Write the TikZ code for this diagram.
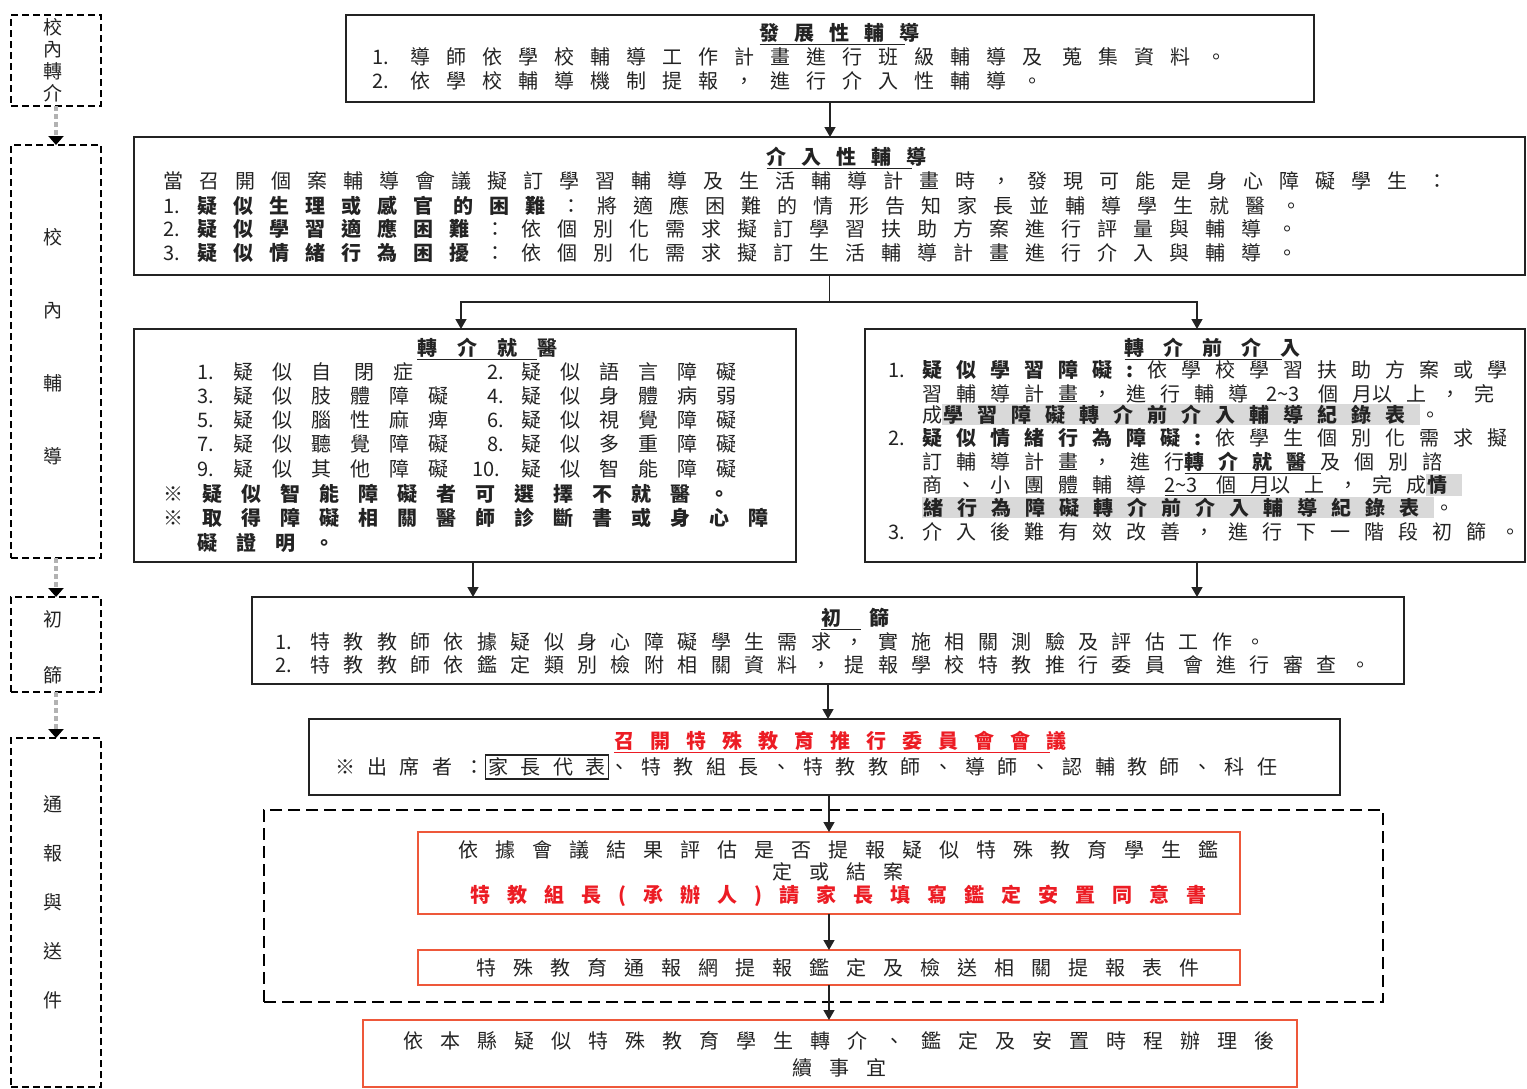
\documentclass[tikz,border=0pt]{standalone}
\usepackage{fontspec}
\setmainfont{Noto Sans CJK TC}
\newfontfamily\plainf{Noto Sans CJK TC}
\usetikzlibrary{arrows.meta}
\definecolor{boxred}{RGB}{238,88,58}
\definecolor{txtred}{RGB}{236,28,36}
\definecolor{hlgray}{RGB}{217,217,217}
\definecolor{ink}{RGB}{35,35,35}
\newcommand\fz[1]{\fontsize{20}{24}\selectfont\addfontfeature{LetterSpace=#1}}
\newcommand\hlx[1]{{\setlength\fboxsep{1pt}\colorbox{hlgray}{#1}}}
\newcommand\nm[2]{\makebox[#1pt][l]{\plainf #2}}
\newcommand\ulx[2][0]{\underline{#2\kern-#1pt}}
\newcommand\rng{{\plainf 2\textasciitilde 3}}
\begin{document}
\begin{tikzpicture}[x=1pt,y=-1pt,
  box/.style={draw=ink, line width=1.4pt, inner sep=0pt, outer sep=0pt},
  rbox/.style={draw=boxred, line width=1.8pt, inner sep=0pt, outer sep=0pt},
  lbox/.style={draw=black, line width=1.6pt, dash pattern=on 7pt off 4pt, inner sep=0pt, outer sep=0pt},
  arr/.style={draw=ink, line width=1.4pt, -{Triangle[width=11pt,length=10pt]}},
  darr/.style={draw=gray!60, line width=4pt, dash pattern=on 5pt off 3pt, -{Triangle[width=15pt,length=9pt,color=black]}},
  tl/.style={inner sep=0pt, anchor=base west, text=ink},
  tc/.style={inner sep=0pt, anchor=base, text=ink},
  lt/.style={inner sep=0pt, align=center, text=ink},
]
\useasboundingbox (0,0) rectangle (1527,1088);

% ---------- left column ----------
\node[lbox, minimum width=90pt, minimum height=91pt]  (l1) at (56,60.5) {};
\node[lbox, minimum width=90pt, minimum height=413pt] (l2) at (56,351.5) {};
\node[lbox, minimum width=90pt, minimum height=95pt]  (l3) at (56,644.5) {};
\node[lbox, minimum width=90pt, minimum height=349pt] (l4) at (56,912.5) {};
\node[lt, font=\fontsize{19}{22}\selectfont] (lt1) at (53,60.5) {校\\內\\轉\\介};
\node[lt, font=\fontsize{19}{73}\selectfont] (lt2) at (53,346.5) {校\\內\\輔\\導};
\node[lt, font=\fontsize{19}{56}\selectfont] (lt3) at (53,647) {初\\篩};
\node[lt, font=\fontsize{19}{49}\selectfont] (lt4) at (53,902) {通\\報\\與\\送\\件};
\draw[darr] (l1.south) -- (l2.north);
\draw[darr] (l2.south) -- (l3.north);
\draw[darr] (l3.south) -- (l4.north);

% ---------- boxes ----------
\node[box, minimum width=968pt,  minimum height=87pt]  (b1) at (830,58.5) {};
\node[box, minimum width=1391pt, minimum height=138pt] (b2) at (829.5,206) {};
\node[box, minimum width=662pt,  minimum height=233pt] (b3) at (465,445.5) {};
\node[box, minimum width=660pt,  minimum height=233pt] (b4) at (1195,445.5) {};
\node[box, minimum width=1152pt, minimum height=87pt]  (b5) at (828,640.5) {};
\node[box, minimum width=1031pt, minimum height=76pt]  (b6) at (824.5,757) {};
\node[draw=black, line width=2.6pt, dash pattern=on 12pt off 6pt, inner sep=0pt, outer sep=0pt,
      minimum width=1119pt, minimum height=192pt] (dbox) at (823.5,906) {};
\node[rbox, minimum width=822pt, minimum height=82pt] (b7) at (829,873) {};
\node[rbox, minimum width=822pt, minimum height=35pt] (b8) at (829,967.5) {};
\node[rbox, minimum width=934pt, minimum height=67pt] (b9) at (830,1053.5) {};

% ---------- connectors ----------
\coordinate (jn) at (829.5,302);
\draw[arr] (b1.south) -- (b1.south |- b2.north);
\draw[ink, line width=1.4pt] (b2.south) -- (jn);
\draw[arr] (jn) -| ([xshift=-4pt]b3.north);
\draw[arr] (jn) -| ([xshift=2pt]b4.north);
\draw[arr] ([xshift=8pt]b3.south) -- ([xshift=8pt]b3.south |- b5.north);
\draw[arr] ([xshift=2pt]b4.south) -- ([xshift=2pt]b4.south |- b5.north);
\draw[arr] (b5.south) -- (b5.south |- b6.north);
\draw[arr] (b7.north |- b6.south) -- (b7.north);
\draw[arr] (b7.south) -- (b8.north);
\draw[arr] (b8.south) -- (b8.south |- b9.north);

% ---------- box 1 ----------
\node[tc, font={\fz{75}\bfseries}] (t1) at (832,40.5) {\ulx[15]{發展性輔導}};
\node[tl, font={\fz{80}}] (t1a) at (372,64.5) {\nm{38}{1.}導師依學校輔導工作計畫進行班級輔導及 蒐集資料。};
\node[tl, font={\fz{80}}] (t1b) at (372,88.5) {\nm{38}{2.}依學校輔導機制提報，進行介入性輔導。};

% ---------- box 2 ----------
\node[tc, font={\fz{75}\bfseries}] (t2) at (839,164.5) {\ulx[15]{介入性輔導}};
\node[tl, font={\fz{80}}] (t2a) at (163,188.5) {當召開個案輔導會議擬訂學習輔導及生活輔導計畫時，發現可能是身心障礙學生 ：};
\node[tl, font={\fz{80}}] (t2b) at (163,213.5) {\nm{34}{1.}\textbf{疑似生理或感官 的困難}：將適應困難的情形告知家長並輔導學生就醫。};
\node[tl, font={\fz{80}}] (t2c) at (163,236.5) {\nm{34}{2.}\textbf{疑似學習適應困難}：依個別化需求擬訂學習扶助方案進行評量與輔導。};
\node[tl, font={\fz{80}}] (t2d) at (163,260.5) {\nm{34}{3.}\textbf{疑似情緒行為困擾}：依個別化需求擬訂生活輔導計畫進行介入與輔導。};

% ---------- box 3 ----------
\node[tc, font={\fz{100}\bfseries}] (t3) at (477,355.5) {\ulx[20]{轉介就醫}};
\node[tl, font={\fz{95}}] (t3a1) at (197,379.5) {\nm{36}{1.}疑似自 閉症};
\node[tl, font={\fz{95}}] (t3a2) at (487,379.5) {\nm{34}{2.}疑似語言障礙};
\node[tl, font={\fz{95}}] (t3b1) at (197,403.5) {\nm{36}{3.}疑似肢體障礙};
\node[tl, font={\fz{95}}] (t3b2) at (487,403.5) {\nm{34}{4.}疑似身體病弱};
\node[tl, font={\fz{95}}] (t3c1) at (197,427.5) {\nm{36}{5.}疑似腦性麻痺};
\node[tl, font={\fz{95}}] (t3c2) at (487,427.5) {\nm{34}{6.}疑似視覺障礙};
\node[tl, font={\fz{95}}] (t3d1) at (197,451.5) {\nm{36}{7.}疑似聽覺障礙};
\node[tl, font={\fz{95}}] (t3d2) at (487,451.5) {\nm{34}{8.}疑似多重障礙};
\node[tl, font={\fz{95}}] (t3e1) at (197,476.5) {\nm{36}{9.}疑似其他障礙};
\node[tl, font={\fz{95}}] (t3e2) at (472,476.5) {\nm{49}{10.}疑似智能障礙};
\node[tl, font={\fz{95}\bfseries}] (t3f) at (163,501.5) {※疑似智能障礙者可選擇不就醫。};
\node[tl, font={\fz{95}\bfseries}] (t3g) at (163,525.5) {※取得障礙相關醫師診斷書或身心障};
\node[tl, font={\fz{95}\bfseries}] (t3h) at (197,550.5) {礙證明。};

% ---------- box 4 ----------
\node[tc, font={\fz{95}\bfseries}] (t4) at (1203,355.5) {\ulx[19]{轉介前介入}};
\node[tl, font={\fz{70}}] (t4a) at (888,377.5) {\nm{34}{1.}\textbf{疑似學習障礙:}依學校學習扶助方案或學};
\node[tl, font={\fz{70}}] (t4b) at (922,401.5) {習輔導計畫，進行輔導 \ulx{\rng\ 個月}以上，完};
\node[tl, font={\fz{70}}] (t4c) at (922,422.5) {成\hlx{\textbf{學習障礙轉介前介入輔導紀錄表}}。};
\node[tl, font={\fz{70}}] (t4d) at (888,445.5) {\nm{34}{2.}\textbf{疑似情緒行為障礙:}依學生個別化需求擬};
\node[tl, font={\fz{70}}] (t4e) at (922,469.5) {訂輔導計畫， 進行\ulx{\textbf{轉介就醫}}及個別諮};
\node[tl, font={\fz{70}}] (t4f) at (922,492.5) {商、小團體輔導 \ulx{\rng\ 個月}以上，完成\hlx{\textbf{情}}};
\node[tl, font={\fz{70}}] (t4g) at (922,515.5) {\hlx{\textbf{緒行為障礙轉介前介入輔導紀錄表}}。};
\node[tl, font={\fz{70}}] (t4h) at (888,539.5) {\nm{34}{3.}介入後難有效改善，進行下一階段初篩。};

% ---------- box 5 ----------
\node[tc, font={\fz{140}\bfseries}] (t5) at (841,625.5) {\ulx[28]{初篩}};
\node[tl, font={\fz{67}}] (t5a) at (275,649.5) {\nm{35}{1.}特教教師依據疑似身心障礙學生需求，實施相關測驗及評估工作。};
\node[tl, font={\fz{67}}] (t5b) at (275,672.5) {\nm{35}{2.}特教教師依鑑定類別檢附相關資料，提報學校特教推行委員 會進行審查。};

% ---------- box 6 ----------
\node[tc, font={\fz{80}\bfseries}, text=txtred] (t6) at (832,748.5) {\ulx[16]{召開特殊教育推行委員會會議}};
\node[tl, font={\fz{62}}] (t6a) at (335,774.5) {※出席者：{\setlength\fboxsep{2pt}\setlength\fboxrule{1.5pt}\fbox{家長代表}}、特教組長、特教教師、導師、認輔教師、科任};

% ---------- red boxes ----------
\node[tc, font={\fz{85}}] (t7a) at (838,857.5) {依據會議結果評估是否提報疑似特殊教育學生鑑};
\node[tc, font={\fz{85}}] (t7b) at (838,879.5) {定或結案};
\node[tc, font={\fz{85}\bfseries}, text=txtred] (t7c) at (838,902.5) {特教組長(承辦人)請家長填寫鑑定安置同意書};
\node[tc, font={\fz{85}}] (t8) at (838,975.5) {特殊教育通報網提報鑑定及檢送相關提報表件};
\node[tc, font={\fz{85}}] (t9a) at (839,1048.5) {依本縣疑似特殊教育學生轉介、鑑定及安置時程辦理後};
\node[tc, font={\fz{85}}] (t9b) at (839,1075.5) {續事宜};
\end{tikzpicture}
\end{document}
